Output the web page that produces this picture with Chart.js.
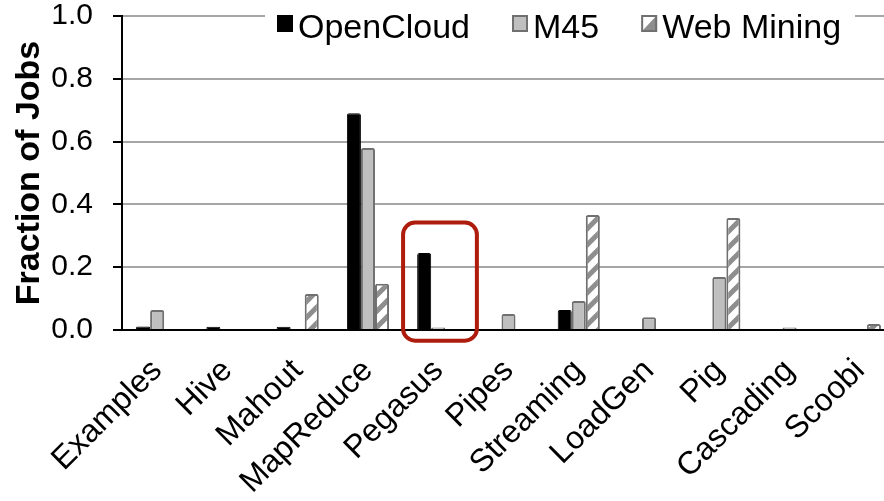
<!DOCTYPE html>
<html>
<head>
<meta charset="utf-8">
<script src="https://cdn.jsdelivr.net/npm/chart.js@4/dist/chart.umd.min.js"></script>
<style>
  html, body { margin: 0; padding: 0; background: #fff; overflow: hidden; }
  #chart { display: block; }
</style>
</head>
<body>
<canvas id="chart" width="896" height="501"></canvas>
<script>
// job frameworks by cluster
const categories = ['Examples', 'Hive', 'Mahout', 'MapReduce', 'Pegasus', 'Pipes',
                    'Streaming', 'LoadGen', 'Pig', 'Cascading', 'Scoobi'];
const openCloud  = [0.011, 0.01, 0.01, 0.69, 0.245, 0, 0.064, 0, 0, 0, 0];
const m45        = [0.064, 0, 0, 0.58, 0.008, 0.051, 0.092, 0.041, 0.169, 0.008, 0];
const webMining  = [0, 0, 0.115, 0.147, 0, 0, 0.366, 0, 0.357, 0, 0.019];
const yTicks     = [0, 0.2, 0.4, 0.6, 0.8, 1.0];
const highlightCategory = 'Pegasus';

const FONT = "'Liberation Sans', Arial, Helvetica, sans-serif";

// white with grey "/" stripes
function stripePattern() {
    const c = document.createElement('canvas');
    c.width = 16; c.height = 16;
    const g = c.getContext('2d');
    g.fillStyle = '#fff';
    g.fillRect(0, 0, 16, 16);
    g.strokeStyle = '#8e8e8e';
    g.lineWidth = 5;
    g.beginPath();
    g.moveTo(-4, 20); g.lineTo(20, -4);
    g.moveTo(-12, 12); g.lineTo(12, -12);
    g.moveTo(4, 28); g.lineTo(28, 4);
    g.stroke();
    return g.createPattern(c, 'repeat');
}

const ctx = document.getElementById('chart').getContext('2d');
const stripes = stripePattern();

// legend drawn by hand: box sits tight against the text
const legendPlugin = {
    id: 'tightLegend',
    afterDraw(chart) {
        const c = chart.ctx;
        c.save();
        c.font = '34px ' + FONT;
        c.textBaseline = 'alphabetic';
        let x = 277;
        const top = 15, box = 16, gap = 5, spacing = 42;
        const items = chart.data.datasets.map(ds => ({ text: ds.label, ds }));
        let total = 0;
        items.forEach(it => { total += box + gap + c.measureText(it.text).width + spacing; });
        c.fillStyle = '#fff';
        c.fillRect(x - 12, 0, total - spacing + 26, 40);
        items.forEach(it => {
            if (it.ds.legendSplit) {
                c.fillStyle = '#fff';
                c.fillRect(x, top, box, box + 1);
                c.fillStyle = it.ds.legendSplit;
                c.beginPath();
                c.moveTo(x, top + box + 1);
                c.lineTo(x + box, top);
                c.lineTo(x + box, top + box + 1);
                c.closePath();
                c.fill();
            } else {
                c.fillStyle = it.ds.backgroundColor;
                c.fillRect(x, top, box, box + 1);
            }
            c.lineWidth = 2;
            c.strokeStyle = it.ds.borderColor;
            c.strokeRect(x + 1, top + 1, box - 2, box - 1);
            c.fillStyle = '#000';
            c.fillText(it.text, x + box + gap, 38);
            x += box + gap + c.measureText(it.text).width + spacing;
        });
        c.restore();
    }
};

// red rounded box round one category
const highlightPlugin = {
    id: 'highlight',
    afterDraw(chart) {
        const xs = chart.scales.x, ys = chart.scales.y;
        const idx = categories.indexOf(highlightCategory);
        const cw = xs.width / categories.length;
        const cx = xs.getPixelForValue(idx);
        const l = cx - cw * 0.5, r = cx + cw * 0.55;
        const t = ys.getPixelForValue(0.342), b = ys.getPixelForValue(-0.034);
        const c = chart.ctx;
        c.save();
        c.strokeStyle = '#ad1c0c';
        c.lineWidth = 4;
        c.beginPath();
        c.roundRect(l, t, r - l, b - t, 12);
        c.stroke();
        c.restore();
    }
};

new Chart(ctx, {
    type: 'bar',
    data: {
        labels: categories,
        datasets: [
            { label: 'OpenCloud', data: openCloud, backgroundColor: '#000', borderColor: '#000',
              borderWidth: 1 },
            { label: 'M45', data: m45, backgroundColor: '#bfbfbf', borderColor: '#707070',
              borderWidth: 2 },
            { label: 'Web Mining', data: webMining, backgroundColor: stripes, borderColor: '#707070',
              borderWidth: 2, legendSplit: '#8e8e8e' },
        ],
    },
    options: {
        responsive: false,
        animation: false,
        layout: { padding: { left: 9, top: 16, right: 1, bottom: 0 } },
        datasets: {
            bar: { categoryPercentage: 0.6, barPercentage: 1.0, borderRadius: 2, borderSkipped: 'start' },
        },
        plugins: {
            legend: { display: false },
            tooltip: { enabled: false },
        },
        scales: {
            x: {
                grid: { display: false },
                border: { display: true, color: '#000', width: 2 },
                ticks: {
                    color: '#000', font: { family: FONT, size: 32 },
                    maxRotation: 45, minRotation: 45, autoSkip: false, padding: 14,
                },
                afterFit: s => { s.height = 171; s.paddingLeft = 0; s.paddingRight = 0; },
            },
            y: {
                min: 0, max: 1,
                afterBuildTicks: axis => { axis.ticks = yTicks.map(v => ({ value: v })); },
                grid: { color: '#a6a6a6', lineWidth: 2, tickColor: '#000', tickLength: 9 },
                border: { display: true, color: '#000', width: 2 },
                ticks: {
                    color: '#000', font: { family: FONT, size: 30 }, padding: 20,
                    callback: v => v.toFixed(1),
                },
                title: {
                    display: true, text: 'Fraction of Jobs', color: '#000',
                    font: { family: FONT, size: 34, weight: 'bold' }, padding: 0,
                },
                afterFit: s => { s.width = 113; s.paddingTop = 0; s.paddingBottom = 0; },
            },
        },
    },
    plugins: [legendPlugin, highlightPlugin],
});
</script>
</body>
</html>
